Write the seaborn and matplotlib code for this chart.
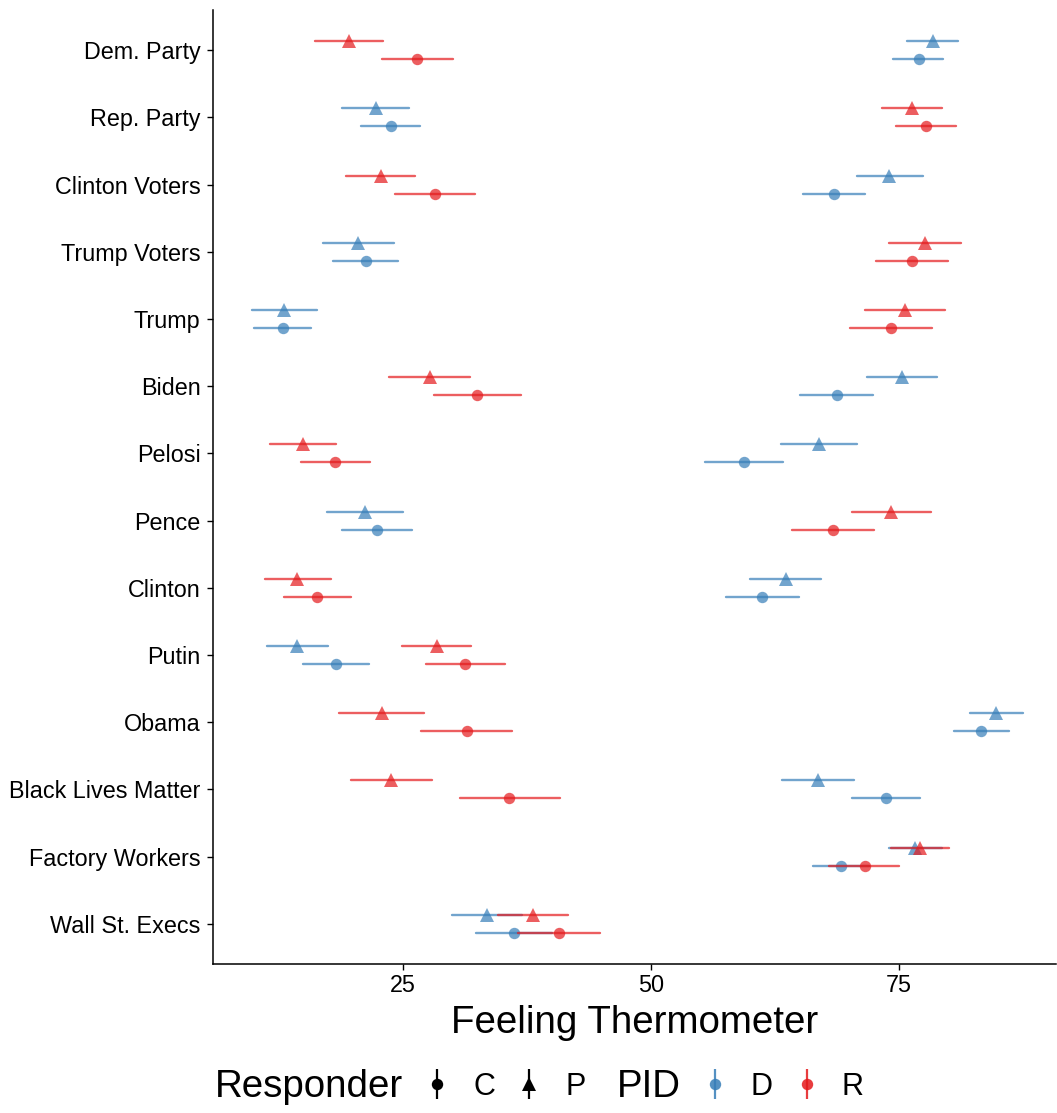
import numpy as np
import pandas as pd
import matplotlib
matplotlib.use("Agg")
import matplotlib.pyplot as plt
from matplotlib.lines import Line2D
from matplotlib.path import Path
import seaborn as sns

items = ["Dem. Party", "Rep. Party", "Clinton Voters", "Trump Voters", "Trump", "Biden",
         "Pelosi", "Pence", "Clinton", "Putin", "Obama", "Black Lives Matter",
         "Factory Workers", "Wall St. Execs"]

# Democrats, politician/party sample (P)
d_p_mean = [78.42, 22.28, 74.02, 20.54, 13.10, 75.27, 66.92, 21.18, 63.56, 14.37, 84.79, 66.82, 76.61, 33.45]
d_p_lo   = [75.84, 18.93, 70.77, 17.02,  9.81, 71.78, 63.06, 17.43, 60.01, 11.32, 82.14, 63.16, 73.94, 29.93]
d_p_hi   = [80.97, 25.67, 77.38, 24.09, 16.42, 78.82, 70.74, 25.00, 67.18, 17.45, 87.47, 70.44, 79.30, 37.00]
# Democrats, citizen sample (C)
d_c_mean = [77.04, 23.79, 68.43, 21.28, 12.93, 68.73, 59.34, 22.41, 61.19, 18.26, 83.28, 73.66, 69.13, 36.17]
d_c_lo   = [74.37, 20.77, 65.27, 17.96, 10.04, 65.01, 55.41, 18.93, 57.53, 14.94, 80.53, 70.27, 66.28, 32.37]
d_c_hi   = [79.46, 26.78, 71.61, 24.57, 15.81, 72.42, 63.30, 25.97, 64.87, 21.64, 86.07, 77.08, 71.98, 40.00]
# Republicans, P
r_p_mean = [19.64, 76.28, 22.79, 77.62, 75.60, 27.72, 14.94, 74.23, 14.41, 28.42, 22.89, 23.86, 77.14, 38.11]
r_p_lo   = [16.20, 73.27, 19.30, 73.96, 71.58, 23.59, 11.65, 70.27, 11.09, 24.97, 18.63, 19.80, 74.23, 34.63]
r_p_hi   = [23.06, 79.36, 26.28, 81.27, 79.66, 31.81, 18.26, 78.22, 17.76, 31.91, 27.11, 27.95, 80.06, 41.63]
# Republicans, C
r_c_mean = [26.48, 77.72, 28.22, 76.31, 74.20, 32.48, 18.19, 68.39, 16.38, 31.30, 31.44, 35.76, 71.53, 40.76]
r_c_lo   = [22.90, 74.73, 24.27, 72.66, 70.04, 28.12, 14.74, 64.24, 13.03, 27.31, 26.84, 30.80, 67.96, 36.57]
r_c_hi   = [30.10, 80.70, 32.24, 79.96, 78.35, 36.90, 21.68, 72.48, 19.77, 35.33, 36.00, 40.83, 74.95, 44.89]

series = [("D", "P", d_p_mean, d_p_lo, d_p_hi), ("D", "C", d_c_mean, d_c_lo, d_c_hi),
          ("R", "P", r_p_mean, r_p_lo, r_p_hi), ("R", "C", r_c_mean, r_c_lo, r_c_hi)]

rows = []
for pid, resp, m, lo, hi in series:
    for i, it in enumerate(items):
        for v in (lo[i], m[i], hi[i]):
            rows.append({"item": it, "PID": pid, "Responder": resp, "value": v})
df = pd.DataFrame(rows)

pid_colors = {"D": "#377EB8", "R": "#E41A1C"}
ALPHA = 0.7

# circle marker drawn a bit smaller than the triangle (padding vertex keeps the scale)
_circ = Path.unit_circle()
small_circle = Path(np.vstack([_circ.vertices * 0.82, [[1.0, 0.0]]]),
                    np.concatenate([_circ.codes, [Path.MOVETO]]))

sns.set_theme(style="white")
plt.rcParams["font.family"] = ["Liberation Sans", "DejaVu Sans"]
plt.rcParams["text.color"] = "black"
plt.rcParams["axes.labelcolor"] = "black"

fig = plt.figure(figsize=(10.57, 11.13), dpi=100)
ax = fig.add_axes([213 / 1057, 1 - 964 / 1113, (1056 - 213) / 1057, (964 - 10) / 1113])

for pid in ["D", "R"]:
    sub = df[df["PID"] == pid]
    sns.pointplot(data=sub, x="value", y="item", hue="Responder", order=items,
                  hue_order=["P", "C"], palette={"P": pid_colors[pid], "C": pid_colors[pid]},
                  markers=["^", small_circle], linestyle="none", estimator="median",
                  errorbar=lambda v: (np.min(v), np.max(v)), dodge=0.268,
                  err_kws={"linewidth": 1.7, "alpha": ALPHA},
                  alpha=ALPHA, markersize=10, markeredgewidth=0, legend=False, ax=ax)

ax.set_xlim(5.9, 90.8)
ax.set_ylim(len(items) - 0.4, -0.6)
ax.set_xticks([25, 50, 75])
ax.set_xticklabels(["25", "50", "75"])
ax.set_ylabel("")
ax.set_xlabel("Feeling Thermometer", fontsize=27.7, color="black", labelpad=6)
ax.tick_params(axis="both", which="both", labelsize=16.8, labelcolor="black", colors="black",
               length=4, width=1.0, direction="out", left=True, bottom=True)
ax.tick_params(axis="y", pad=5)
ax.tick_params(axis="x", pad=3)
for s in ["top", "right"]:
    ax.spines[s].set_visible(False)
for s in ["left", "bottom"]:
    ax.spines[s].set_color("black")
    ax.spines[s].set_linewidth(1.1)
ax.grid(False)

# Legend
ly = 1 - 1087 / 1113
fig.text(215 / 1057, ly, "Responder", fontsize=27.7, va="center", ha="left", color="black")
fig.text(617 / 1057, ly, "PID", fontsize=27.7, va="center", ha="left", color="black")

def key(color, marker, a=1.0):
    bar = Line2D([], [], marker="|", markersize=22, markeredgewidth=1.6, color=color,
                 linestyle="none", alpha=a)
    pt = Line2D([], [], marker=marker, markersize=10, markeredgewidth=0, color=color,
                linestyle="none", alpha=a)
    return (bar, pt)

leg1 = fig.legend([key("black", small_circle), key("black", "^")], ["C", "P"], ncol=2,
                  loc="center left", bbox_to_anchor=(422 / 1057, ly), frameon=False,
                  fontsize=22, handlelength=1.0, handletextpad=0.68, columnspacing=0.62,
                  borderpad=0, borderaxespad=0, labelcolor="black")
leg2 = fig.legend([key(pid_colors["D"], small_circle, 0.85), key(pid_colors["R"], small_circle, 0.85)],
                  ["D", "R"], ncol=2, loc="center left", bbox_to_anchor=(700 / 1057, ly),
                  frameon=False, fontsize=22, handlelength=1.0, handletextpad=0.64,
                  columnspacing=0.64, borderpad=0, borderaxespad=0, labelcolor="black")

fig.savefig("out.png", dpi=100)
